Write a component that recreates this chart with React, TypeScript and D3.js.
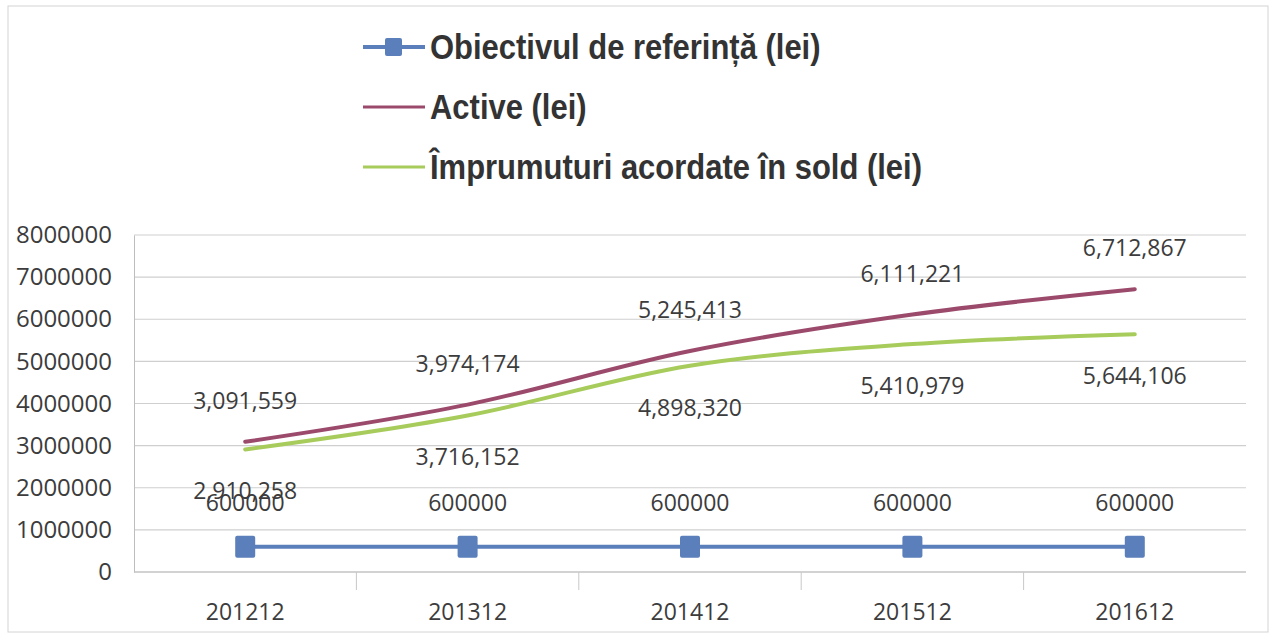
import React, { useEffect, useRef } from "react";
import * as d3 from "d3";

// Categories (year + month)
const periods = ["201212", "201312", "201412", "201512", "201612"];

// Series values (lei)
const obiectiv = [600000, 600000, 600000, 600000, 600000];
const active = [3091559, 3974174, 5245413, 6111221, 6712867];
const imprumuturi = [2910258, 3716152, 4898320, 5410979, 5644106];

// Y axis ticks
const yTicks = [0, 1000000, 2000000, 3000000, 4000000, 5000000, 6000000, 7000000, 8000000];

const legendNames = [
  "Obiectivul de referință (lei)",
  "Active (lei)",
  "Împrumuturi acordate în sold (lei)",
];

const BLUE = "#5b7fba";
const MAROON = "#9c4a6c";
const GREEN = "#a7cc5c";

const App = () => {
  const ref = useRef<SVGSVGElement | null>(null);

  useEffect(() => {
    const width = 1274,
      height = 637;
    const plot = { left: 134, right: 1246, top: 235, bottom: 572 };

    const svg = d3.select(ref.current);
    svg.selectAll("*").remove();

    svg.append("rect").attr("width", width).attr("height", height).attr("fill", "#fff");

    // Outer chart frame
    svg
      .append("rect")
      .attr("x", 8)
      .attr("y", 6)
      .attr("width", 1260)
      .attr("height", 626)
      .attr("fill", "none")
      .attr("stroke", "#d4d4d4")
      .attr("stroke-width", 1);

    const x = d3.scalePoint().domain(periods).range([plot.left, plot.right]).padding(0.5);
    const y = d3.scaleLinear().domain([0, 8000000]).range([plot.bottom, plot.top]);

    // Gridlines
    svg
      .append("g")
      .selectAll("line")
      .data(yTicks)
      .enter()
      .append("line")
      .attr("x1", plot.left)
      .attr("x2", plot.right)
      .attr("y1", (d) => y(d))
      .attr("y2", (d) => y(d))
      .attr("stroke", "#cfcfcf")
      .attr("stroke-width", 1.2);

    // Y axis
    const yAxis = svg
      .append("g")
      .attr("transform", `translate(${plot.left},0)`)
      .call(d3.axisLeft(y).tickValues(yTicks).tickFormat(d3.format("d")).tickSize(0).tickPadding(22));
    yAxis.select(".domain").attr("stroke", "#bdbdbd");
    yAxis
      .selectAll("text")
      .attr("font-family", "'Open Sans', sans-serif")
      .attr("font-size", 24)
      .attr("fill", "#3c3c3c");

    // X axis with ticks between categories
    const step = x.step();
    svg
      .append("line")
      .attr("x1", plot.left)
      .attr("x2", plot.right)
      .attr("y1", plot.bottom)
      .attr("y2", plot.bottom)
      .attr("stroke", "#bdbdbd");
    svg
      .append("g")
      .selectAll("line")
      .data(periods.slice(1))
      .enter()
      .append("line")
      .attr("x1", (d) => (x(d) as number) - step / 2)
      .attr("x2", (d) => (x(d) as number) - step / 2)
      .attr("y1", plot.bottom)
      .attr("y2", plot.bottom + 18)
      .attr("stroke", "#c8c8c8");
    svg
      .append("g")
      .selectAll("text")
      .data(periods)
      .enter()
      .append("text")
      .attr("x", (d) => x(d) as number)
      .attr("y", 620)
      .attr("text-anchor", "middle")
      .attr("font-family", "'Open Sans', sans-serif")
      .attr("font-size", 23)
      .attr("fill", "#3c3c3c")
      .text((d) => d);

    const line = d3
      .line<number>()
      .x((_, i) => x(periods[i]) as number)
      .y((d) => y(d))
      .curve(d3.curveMonotoneX);

    const series = [
      { values: imprumuturi, color: GREEN, dy: 50 },
      { values: active, color: MAROON, dy: -33 },
      { values: obiectiv, color: BLUE, dy: -36 },
    ];

    series.forEach((s) => {
      svg
        .append("path")
        .datum(s.values)
        .attr("d", line)
        .attr("fill", "none")
        .attr("stroke", s.color)
        .attr("stroke-width", 4)
        .attr("stroke-linecap", "round");
    });

    // Square markers for the reference objective
    svg
      .append("g")
      .selectAll("rect")
      .data(obiectiv)
      .enter()
      .append("rect")
      .attr("x", (_, i) => (x(periods[i]) as number) - 10)
      .attr("y", (d) => y(d) - 11)
      .attr("width", 20)
      .attr("height", 22)
      .attr("rx", 2)
      .attr("fill", BLUE);

    // Data labels (the first green label and first blue label overlap, as in the original)
    series.forEach((s) => {
      svg
        .append("g")
        .selectAll("text")
        .data(s.values)
        .enter()
        .append("text")
        .attr("x", (_, i) => x(periods[i]) as number)
        .attr("y", (d) => y(d) + s.dy)
        .attr("text-anchor", "middle")
        .attr("font-family", "'Open Sans', sans-serif")
        .attr("font-size", 23)
        .attr("fill", "#3c3c3c")
        .text((d) => (s.color === BLUE ? d3.format("d")(d) : d3.format(",")(d)));
    });

    // Legend
    const legendColors = [BLUE, MAROON, GREEN];
    const legend = svg
      .append("g")
      .selectAll("g")
      .data(legendNames)
      .enter()
      .append("g")
      .attr("transform", (_, i) => `translate(363,${47 + i * 60})`);
    legend
      .append("line")
      .attr("x1", 0)
      .attr("x2", 62)
      .attr("stroke", (_, i) => legendColors[i])
      .attr("stroke-width", (_, i) => (i === 0 ? 4 : 3));
    legend
      .filter((_, i) => i === 0)
      .append("rect")
      .attr("x", 22)
      .attr("y", -9)
      .attr("width", 17)
      .attr("height", 18)
      .attr("rx", 2)
      .attr("fill", BLUE);
    // narrow bold face is not installed, so squeeze the regular bold one
    legend
      .append("text")
      .attr("transform", "translate(67,12) scale(0.885,1)")
      .attr("font-family", "'Liberation Sans', Arial, sans-serif")
      .attr("font-weight", "bold")
      .attr("font-size", 35)
      .attr("fill", "#333")
      .text((d) => d);
  }, []);

  return (
    <svg
      ref={ref}
      width={1274}
      height={637}
      style={{ position: "absolute", left: 0, top: 0 }}
    ></svg>
  );
};

export default App;
